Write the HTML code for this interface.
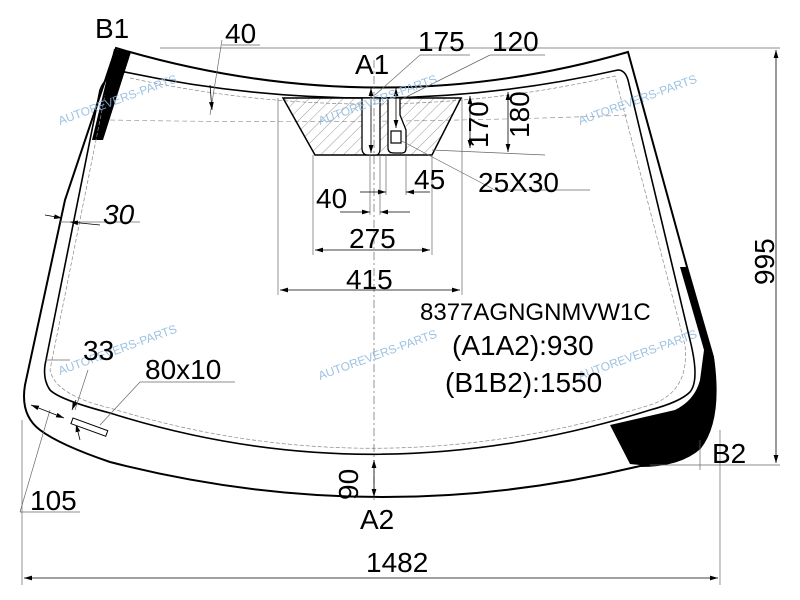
<!DOCTYPE html>
<html><head><style>body{margin:0;background:#fff}svg{display:block}</style></head><body>
<svg width="800" height="600" viewBox="0 0 800 600" xmlns="http://www.w3.org/2000/svg" font-family="Liberation Sans, sans-serif">
<defs>
<pattern id="h" width="8" height="8" patternUnits="userSpaceOnUse" patternTransform="rotate(45)"><line x1="0" y1="0" x2="0" y2="8" stroke="#555" stroke-width="0.6"/></pattern>
<marker id="a" viewBox="0 0 10 6" refX="10" refY="3" markerWidth="10" markerHeight="6" orient="auto-start-reverse"><path d="M0,0L10,3L0,6z" fill="#000"/></marker>
</defs>
<path d="M114,49 L131,52 L103,140 L92,140 Z" fill="#000"/>
<path d="M680,267 L687,267 L700,310 L713,357 Q722,410 702,445 Q682,465 650,466 L630,464 L610,425 L675,410 Q695,400 700,380 L704,350 Z" fill="#000"/>
<path d="M116,48 Q375,125 628,52 L687,267 L713,357 Q722,420 700,448 Q680,466 640,466 Q375,530 110,462 Q60,445 40,430 Q20,415 25,385 L65,200 Z" fill="none" stroke="#000" stroke-width="2"/>
<path d="M125,72 Q375,125 618,70 Q625,70 628,80 L690,340 Q700,380 690,392 Q680,402 650,410 Q375,497 110,413 Q60,400 50,390 Q43,380 45,365 L100,90 Q105,75 125,72 Z" fill="none" stroke="#000" stroke-width="1.6"/>
<path d="M130,78 Q375,131 615,76 L685,345 Q690,392 650,405 Q375,490 110,408 Q55,395 50,370 L105,95" fill="none" stroke="#888" stroke-width="0.7" stroke-dasharray="4,2"/>
<path d="M110,120 Q375,125 630,115" fill="none" stroke="#999" stroke-width="0.7" stroke-dasharray="5,3"/>
<path d="M283,98 L461,98 L432,155 L315,155 Z" fill="url(#h)" stroke="#000" stroke-width="1.5"/>
<path d="M362,98 L362,148 Q362,155 368,155 L376,155 Q380,155 380,148 L380,98 Z M388,98 L388,148 Q388,153 394,153 L402,153 Q406,153 406,148 L406,130 L400,115 L400,98 Z" fill="#fff" stroke="#000" stroke-width="1.3"/>
<rect x="391" y="131" width="10" height="12" fill="none" stroke="#000" stroke-width="1.2"/>
<g stroke="#666" stroke-width="0.7" fill="none">
<line x1="278" y1="98" x2="278" y2="295"/><line x1="462" y1="98" x2="462" y2="295"/>
<line x1="313" y1="155" x2="313" y2="255"/><line x1="432" y1="155" x2="432" y2="255"/>
<line x1="370" y1="155" x2="370" y2="215"/><line x1="380" y1="155" x2="380" y2="215"/>
<line x1="386" y1="155" x2="386" y2="195"/><line x1="406" y1="155" x2="406" y2="195"/>
<line x1="374" y1="60" x2="374" y2="500" stroke-dasharray="8,3,2,3"/>
<line x1="432" y1="150" x2="545" y2="155"/>
<line x1="400" y1="140" x2="495" y2="190"/><line x1="495" y1="190" x2="590" y2="190"/>
<line x1="400" y1="100" x2="490" y2="55"/><line x1="490" y1="55" x2="545" y2="55"/>
<line x1="375" y1="95" x2="420" y2="55"/><line x1="420" y1="55" x2="470" y2="55"/>
<line x1="160" y1="48" x2="780" y2="48"/><line x1="650" y1="465" x2="780" y2="465"/>
<line x1="22" y1="420" x2="22" y2="585"/><line x1="720" y1="430" x2="720" y2="585"/>
<line x1="210" y1="115" x2="222" y2="40"/><line x1="222" y1="45" x2="260" y2="45"/>
<line x1="60" y1="222" x2="140" y2="222"/>
<line x1="45" y1="360" x2="70" y2="360"/><line x1="75" y1="410" x2="88" y2="370"/>
<line x1="100" y1="425" x2="140" y2="382"/><line x1="140" y1="382" x2="235" y2="382"/>
<line x1="20" y1="512" x2="50" y2="410"/><line x1="20" y1="512" x2="80" y2="512"/>
<line x1="700" y1="440" x2="700" y2="470"/>
</g>
<g stroke="#000" stroke-width="0.8" fill="none" marker-start="url(#a)" marker-end="url(#a)">
<line x1="280" y1="290" x2="460" y2="290"/>
<line x1="315" y1="250" x2="430" y2="250"/>
<line x1="24" y1="578" x2="718" y2="578"/>
<line x1="776" y1="50" x2="776" y2="463"/>
<line x1="470" y1="96" x2="470" y2="148"/>
<line x1="508" y1="92" x2="508" y2="152"/>
<line x1="374" y1="460" x2="374" y2="497"/>
<line x1="371" y1="88" x2="371" y2="153"/>
<line x1="396" y1="88" x2="396" y2="128"/>
<line x1="31" y1="405" x2="64" y2="418"/>
</g>
<g stroke="#000" stroke-width="0.8" fill="none" marker-end="url(#a)">
<line x1="340" y1="212" x2="370" y2="212"/><line x1="410" y1="212" x2="380" y2="212"/>
<line x1="360" y1="192" x2="386" y2="192"/><line x1="430" y1="192" x2="406" y2="192"/>
<line x1="210" y1="85" x2="212" y2="110"/>
<line x1="45" y1="215" x2="62" y2="218"/><line x1="100" y1="225" x2="70" y2="222"/>
<line x1="76" y1="400" x2="72" y2="410"/><line x1="80" y1="440" x2="76" y2="424"/>
</g>
<rect x="73" y="418" width="37" height="6" transform="rotate(20 73 418)" fill="#fff" stroke="#000" stroke-width="1"/>
<g fill="#8cb8dd" font-size="12" opacity="0.85">
<text x="60" y="125" transform="rotate(-20 60 125)">AUTOREVERS-PARTS</text>
<text x="320" y="125" transform="rotate(-20 320 125)">AUTOREVERS-PARTS</text>
<text x="580" y="125" transform="rotate(-20 580 125)">AUTOREVERS-PARTS</text>
<text x="60" y="375" transform="rotate(-20 60 375)">AUTOREVERS-PARTS</text>
<text x="320" y="380" transform="rotate(-20 320 380)">AUTOREVERS-PARTS</text>
<text x="580" y="380" transform="rotate(-20 580 380)">AUTOREVERS-PARTS</text>
</g>
<g font-size="28" fill="#000">
<text x="95" y="38">B1</text>
<text x="225" y="43">40</text>
<text x="355" y="74">A1</text>
<text x="418" y="51">175</text>
<text x="492" y="51">120</text>
<text x="103" y="224" font-style="italic">30</text>
<text x="316" y="208">40</text>
<text x="414" y="189">45</text>
<text x="478" y="192">25X30</text>
<text x="349" y="248">275</text>
<text x="346" y="289">415</text>
<text x="420" y="320" font-size="24">8377AGNGNMVW1C</text>
<text x="452" y="355">(A1A2):930</text>
<text x="445" y="392">(B1B2):1550</text>
<text x="83" y="360">33</text>
<text x="145" y="379">80x10</text>
<text x="712" y="463">B2</text>
<text x="360" y="529">A2</text>
<text x="30" y="510">105</text>
<text x="366" y="572">1482</text>
<text transform="translate(358,500) rotate(-90)">90</text>
<text transform="translate(488,148) rotate(-90)">170</text>
<text transform="translate(529,138) rotate(-90)">180</text>
<text transform="translate(774,285) rotate(-90)">995</text>
</g>
</svg>
</body></html>
